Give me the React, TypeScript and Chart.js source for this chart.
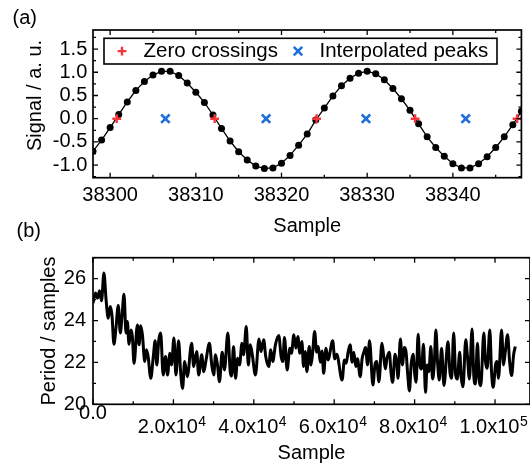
import React, { useEffect, useRef } from "react";
import { Chart, registerables } from "chart.js";

Chart.register(...registerables);

const FONT = '"Liberation Sans", Arial, Helvetica, sans-serif';

// ---------- Panel (a) data ----------
const signalX = [
  38298, 38299, 38300, 38301, 38302, 38303, 38304, 38305, 38306, 38307,
  38308, 38309, 38310, 38311, 38312, 38313, 38314, 38315, 38316, 38317,
  38318, 38319, 38320, 38321, 38322, 38323, 38324, 38325, 38326, 38327,
  38328, 38329, 38330, 38331, 38332, 38333, 38334, 38335, 38336, 38337,
  38338, 38339, 38340, 38341, 38342, 38343, 38344, 38345, 38346, 38347,
  38348,
];
const signalY = [
  -0.7, -0.46, -0.19, 0.09, 0.36, 0.61, 0.8, 0.94, 1.02, 1.02,
  0.93, 0.77, 0.57, 0.35, 0.08, -0.21, -0.48, -0.71, -0.89, -1.02,
  -1.07, -1.06, -0.96, -0.79, -0.57, -0.33, -0.03, 0.23, 0.49, 0.71,
  0.87, 0.98, 1.02, 0.97, 0.84, 0.65, 0.43, 0.18, -0.11, -0.39,
  -0.62, -0.81, -0.97, -1.06, -1.06, -0.97, -0.82, -0.62, -0.39, -0.13,
  0.16,
];
const zeroCrossX = [38300.77, 38312.2, 38324.1, 38335.6, 38347.5];
const zeroCrossY = [0, 0, 0, 0, 0];
const peakX = [38306.45, 38318.2, 38329.86, 38341.5];
const peakY = [0, 0, 0, 0];
const topXTicks = [38300, 38310, 38320, 38330, 38340];
const topYTicks = [-1.0, -0.5, 0.0, 0.5, 1.0, 1.5];

// ---------- Panel (b) data ----------
const periodX = [
  0, 625, 1125, 1625, 2125, 2708, 3290, 3790, 4290, 4710,
  5210, 5710, 6290, 6790, 7210, 7710, 8210, 8540, 8960, 9460,
  9790, 10210, 11040, 11460, 11870, 12290, 12880, 13290, 13710, 14375,
  14960, 15460, 15870, 16375, 16830, 17450, 18040, 18540, 19125, 19540,
  20125, 20625, 21290, 21790, 22290, 22790, 23460, 24540, 25040, 25790,
  26290, 27040, 27540, 28125, 28960, 29540, 30040, 30460, 30960, 31460,
  32125, 32710, 33540, 34125, 34450, 34960, 35460, 35960, 36460, 37040,
  37460, 38125, 38625, 39125, 39625, 40400, 41290, 41790, 42460, 42960,
  43710, 44210, 44710, 45375, 46210, 46790, 47210, 47625, 48290, 48960,
  49375, 49960, 50460, 50960, 51450, 51950, 52375, 52790, 53210, 53790,
  54210, 54625, 55125, 55625, 56040, 56540, 56960, 57375, 57960, 58460,
  59625, 60125, 60625, 61960, 62540, 62960, 63460, 63960, 64460, 64870,
  65375, 65790, 66460, 66960, 67375, 67790, 68290, 68790, 69625, 70125,
  70540, 71125, 71875, 72290, 72710, 73125, 73710, 74125, 74540, 75125,
  75540, 75875, 76460, 76960, 77460, 77875, 78290, 78710, 79125, 79625,
  80040, 80375, 80875, 81290, 81710, 82210, 82710, 83125, 83540, 84040,
  84460, 84875, 85290, 85710, 86125, 86710, 87300, 88290, 88790, 89210,
  89710, 90210, 90625, 91210, 91625, 92040, 92710, 93125, 93625, 94290,
  94710, 95125, 95625, 96040, 96460, 97210, 97625, 98040, 98710, 99125,
  99540, 100125, 100460, 100870, 101625, 102125, 102540, 103125, 103625, 104125,
  104625, 105040,
];
const periodY = [
  24.83, 25.31, 25.07, 25.42, 24.94, 26.27, 24.91, 24.11, 24.67, 24.27,
  22.87, 23.64, 24.72, 23.4, 24.19, 25.26, 23.4, 23.95, 22.87, 23.55,
  23.24, 21.96, 23.79, 22.84, 23.75, 23.32, 22.04, 22.6, 22.28, 21.24,
  22.2, 23.03, 21.88, 23.08, 23.4, 21.4, 22.28, 21.4, 22.44, 21.88,
  23.16, 21.4, 23.03, 21.56, 20.76, 22.04, 21.32, 22.92, 21.8, 22.52,
  21.4, 22.36, 21.56, 22.12, 22.92, 21.88, 21.4, 22.36, 21.88, 21.08,
  22.49, 21.64, 23.4, 21.56, 21.35, 22.76, 21.24, 22.2, 21.88, 22.92,
  22.36, 23.71, 21.88, 22.84, 22.36, 21.4, 23.12, 22.52, 23.08, 22.28,
  21.8, 22.6, 22.04, 22.84, 23.28, 22.28, 22.04, 23.19, 21.64, 22.68,
  22.44, 23.32, 22.68, 23.24, 22.44, 23.0, 21.8, 22.52, 21.56, 22.76,
  21.88, 22.44, 23.48, 22.49, 22.76, 22.01, 22.55, 21.48, 22.68, 22.12,
  23.03, 22.17, 22.39, 21.16, 22.12, 21.96, 22.49, 22.84, 22.01, 22.49,
  21.8, 22.17, 21.32, 22.2, 22.49, 22.71, 21.88, 23.03, 20.92, 21.88,
  22.04, 21.08, 22.92, 22.33, 21.69, 22.2, 22.49, 21.53, 21.05, 22.39,
  22.01, 21.24, 23.12, 21.88, 22.71, 22.49, 21.4, 20.64, 21.88, 22.39,
  21.4, 21.05, 23.35, 21.88, 21.69, 22.87, 20.57, 21.88, 21.56, 22.76,
  21.21, 21.88, 23.55, 22.01, 21.16, 22.68, 20.9, 22.99, 21.53, 21.24,
  23.4, 21.4, 21.21, 22.49, 21.24, 20.84, 23.08, 22.33, 21.21, 23.6,
  21.4, 20.97, 22.92, 21.24, 20.89, 23.4, 22.04, 21.72, 23.55, 21.56,
  20.81, 21.88, 22.04, 21.24, 23.55, 21.88, 22.49, 23.32, 22.04, 21.37,
  22.36, 22.76,
];
const bottomXTicks = [0, 20000, 40000, 60000, 80000, 100000];
const bottomYTicks = [20, 22, 24, 26];

function sciParts(v: number): { mant: string; exp: string } {
  if (v === 0) return { mant: "0.0", exp: "" };
  const e = Math.floor(Math.log10(Math.abs(v)) + 1e-9);
  const m = v / Math.pow(10, e);
  return { mant: m.toFixed(1) + "x10", exp: String(e) };
}

// Frame with inward major/minor ticks on all four sides
const frameTicks = {
  id: "frameTicks",
  afterDatasetsDraw(chart: any, _args: any, opts: any) {
    const { ctx, chartArea } = chart;
    const { left, right, top, bottom } = chartArea;
    const xs = chart.scales.x;
    const ys = chart.scales.y;
    ctx.save();
    ctx.strokeStyle = "#000";
    ctx.lineWidth = 1.3;
    const nX0 = Math.ceil(xs.min / opts.xMinor);
    const nX1 = Math.floor(xs.max / opts.xMinor);
    const ratioX = Math.round(opts.xMajor / opts.xMinor);
    for (let n = nX0; n <= nX1; n++) {
      const p = xs.getPixelForValue(n * opts.xMinor);
      const len = n % ratioX === 0 ? 5 : 3;
      ctx.beginPath();
      ctx.moveTo(p, bottom);
      ctx.lineTo(p, bottom - len);
      ctx.moveTo(p, top);
      ctx.lineTo(p, top + len);
      ctx.stroke();
    }
    const nY0 = Math.ceil(ys.min / opts.yMinor - 1e-9);
    const nY1 = Math.floor(ys.max / opts.yMinor + 1e-9);
    const ratioY = Math.round(opts.yMajor / opts.yMinor);
    for (let n = nY0; n <= nY1; n++) {
      const p = ys.getPixelForValue(n * opts.yMinor);
      const len = ((n % ratioY) + ratioY) % ratioY === 0 ? 5 : 3;
      ctx.beginPath();
      ctx.moveTo(left, p);
      ctx.lineTo(left + len, p);
      ctx.moveTo(right, p);
      ctx.lineTo(right - len, p);
      ctx.stroke();
    }
    ctx.lineWidth = 1.7;
    ctx.strokeRect(left, top, right - left, bottom - top);
    ctx.restore();
  },
};

// Superscript exponents for the "m.mx10^e" tick labels of the bottom x axis
const expLabels = {
  id: "expLabels",
  afterDraw(chart: any, _args: any, opts: any) {
    if (!opts || !opts.show) return;
    const { ctx, chartArea } = chart;
    const xs = chart.scales.x;
    const yMid = chartArea.bottom + opts.midOffset;
    ctx.save();
    ctx.fillStyle = "#000";
    ctx.textBaseline = "middle";
    ctx.textAlign = "left";
    xs.ticks.forEach((t: any) => {
      const parts = sciParts(t.value);
      if (!parts.exp) return;
      ctx.font = "20px " + FONT;
      const w = ctx.measureText(parts.mant).width;
      const sp = ctx.measureText("  ").width;
      const cx = xs.getPixelForValue(t.value) - sp / 2;
      ctx.font = "14px " + FONT;
      ctx.fillText(parts.exp, cx + w / 2 + 0.5, yMid - 5.8);
    });
    ctx.restore();
  },
};

// Boxed legend drawn inside the plot area
const insideLegend = {
  id: "insideLegend",
  afterDraw(chart: any, _args: any, opts: any) {
    if (!opts || !opts.show) return;
    const { ctx, chartArea } = chart;
    const bx = chartArea.left + 11;
    const by = chartArea.top + 8.3;
    const bw = 393;
    const bh = 25.7;
    const cy = by + bh / 2;
    ctx.save();
    ctx.fillStyle = "#fff";
    ctx.fillRect(bx, by, bw, bh);
    ctx.strokeStyle = "#000";
    ctx.lineWidth = 1.6;
    ctx.strokeRect(bx, by, bw, bh);
    const items = chart.data.datasets.filter((d: any) => d.legendX !== undefined);
    ctx.font = "20.5px " + FONT;
    ctx.textBaseline = "middle";
    ctx.textAlign = "left";
    items.forEach((d: any) => {
      const mx = bx + d.legendX;
      ctx.strokeStyle = d.borderColor;
      ctx.lineWidth = d.borderWidth;
      ctx.beginPath();
      if (d.pointStyle === "cross") {
        const r = d.pointRadius;
        ctx.moveTo(mx - r, cy);
        ctx.lineTo(mx + r, cy);
        ctx.moveTo(mx, cy - r);
        ctx.lineTo(mx, cy + r);
      } else {
        const r = d.pointRadius * Math.SQRT1_2;
        ctx.moveTo(mx - r, cy - r);
        ctx.lineTo(mx + r, cy + r);
        ctx.moveTo(mx - r, cy + r);
        ctx.lineTo(mx + r, cy - r);
      }
      ctx.stroke();
      ctx.fillStyle = "#000";
      ctx.fillText(d.label, mx + 21.5, cy);
    });
    ctx.restore();
  },
};

function zeroPads(s: any) {
  s.paddingTop = 0;
  s.paddingBottom = 0;
  s.paddingLeft = 0;
  s.paddingRight = 0;
}

function topConfig(): any {
  return {
    type: "scatter",
    data: {
      datasets: [
        {
          label: "Zero crossings",
          data: zeroCrossX.map((x, i) => ({ x, y: zeroCrossY[i] })),
          pointStyle: "cross",
          pointRadius: 4.4,
          borderColor: "#f4373d",
          borderWidth: 2.4,
          showLine: false,
          legendX: 18,
        },
        {
          label: "Interpolated peaks",
          data: peakX.map((x, i) => ({ x, y: peakY[i] })),
          pointStyle: "crossRot",
          pointRadius: 6,
          borderColor: "#1f6fdc",
          borderWidth: 2.6,
          showLine: false,
          legendX: 194,
        },
        {
          label: "Signal",
          data: signalX.map((x, i) => ({ x, y: signalY[i] })),
          showLine: true,
          borderColor: "#000",
          borderWidth: 1.3,
          pointRadius: 3.5,
          pointBackgroundColor: "#000",
          pointBorderWidth: 0,
          tension: 0,
        },
      ],
    },
    options: {
      responsive: false,
      animation: false,
      events: [],
      layout: { padding: { top: 30, right: 0, left: 0, bottom: 0 } },
      plugins: {
        legend: { display: false },
        tooltip: { enabled: false },
        frameTicks: { xMajor: 10, xMinor: 5, yMajor: 0.5, yMinor: 0.25 },
        insideLegend: { show: true },
      },
      scales: {
        x: {
          type: "linear",
          min: 38298,
          max: 38348,
          afterBuildTicks: (s: any) => {
            s.ticks = topXTicks.map((v) => ({ value: v }));
          },
          afterFit: (s: any) => {
            s.height = 62.3;
            zeroPads(s);
          },
          grid: { display: false, drawTicks: false },
          border: { display: false },
          ticks: {
            padding: 6,
            maxRotation: 0,
            minRotation: 0,
            autoSkip: false,
            color: "#000",
            font: { size: 20, family: FONT },
            callback: (v: any) => String(v),
          },
          title: {
            display: true,
            text: "Sample",
            color: "#000",
            font: { size: 20, family: FONT },
            padding: { top: 0, bottom: 2 },
          },
        },
        y: {
          type: "linear",
          min: -1.27,
          max: 1.91,
          afterBuildTicks: (s: any) => {
            s.ticks = topYTicks.map((v) => ({ value: v }));
          },
          afterFit: (s: any) => {
            s.width = 93;
            zeroPads(s);
          },
          grid: { display: false, drawTicks: false },
          border: { display: false },
          ticks: {
            padding: 5.7,
            color: "#000",
            font: { size: 20, family: FONT },
            callback: (v: any) => Number(v).toFixed(1),
          },
          title: {
            display: true,
            text: "   Signal / a. u.",
            color: "#000",
            font: { size: 20, family: FONT },
            padding: { top: 23, bottom: 0 },
          },
        },
      },
    },
    plugins: [frameTicks, insideLegend],
  };
}

function bottomConfig(): any {
  return {
    type: "scatter",
    data: {
      datasets: [
        {
          label: "Period",
          data: periodX.map((x, i) => ({ x, y: periodY[i] })),
          showLine: true,
          borderColor: "#000",
          borderWidth: 3,
          pointRadius: 0,
          cubicInterpolationMode: "monotone",
        },
      ],
    },
    options: {
      responsive: false,
      animation: false,
      events: [],
      layout: { padding: { top: 17.7, right: 0, left: 0, bottom: 0 } },
      plugins: {
        legend: { display: false },
        tooltip: { enabled: false },
        frameTicks: { xMajor: 20000, xMinor: 10000, yMajor: 2, yMinor: 1 },
        expLabels: { show: true, midOffset: 8.7 + 14.5 },
      },
      scales: {
        x: {
          type: "linear",
          min: 0,
          max: 108700,
          afterBuildTicks: (s: any) => {
            s.ticks = bottomXTicks.map((v) => ({ value: v }));
          },
          afterFit: (s: any) => {
            s.height = 63.7;
            zeroPads(s);
          },
          grid: { display: false, drawTicks: false },
          border: { display: false },
          ticks: {
            padding: 8.7,
            crossAlign: "far",
            maxRotation: 0,
            minRotation: 0,
            autoSkip: false,
            color: "#000",
            font: (c: any) => ({
              size: 20,
              family: FONT,
              lineHeight: c.index === 0 ? 1.925 : 1.2,
            }),
            callback: (v: any) => {
              const p = sciParts(Number(v));
              return p.exp ? p.mant + "  " : p.mant;
            },
          },
          title: {
            display: true,
            text: "Sample",
            color: "#000",
            font: { size: 20, family: FONT },
            padding: { top: 0, bottom: 3 },
          },
        },
        y: {
          type: "linear",
          min: 20,
          max: 27,
          afterBuildTicks: (s: any) => {
            s.ticks = bottomYTicks.map((v) => ({ value: v }));
          },
          afterFit: (s: any) => {
            s.width = 93;
            zeroPads(s);
          },
          grid: { display: false, drawTicks: false },
          border: { display: false },
          ticks: {
            padding: 7,
            color: "#000",
            font: { size: 20, family: FONT },
            callback: (v: any) => String(v),
          },
          title: {
            display: true,
            text: "Period / samples",
            color: "#000",
            font: { size: 20, family: FONT },
            padding: { top: 37, bottom: 0 },
          },
        },
      },
    },
    plugins: [frameTicks, expLabels],
  };
}

export default function App() {
  const topRef = useRef<HTMLCanvasElement>(null);
  const botRef = useRef<HTMLCanvasElement>(null);

  useEffect(() => {
    const c1 = new Chart(topRef.current as HTMLCanvasElement, topConfig());
    const c2 = new Chart(botRef.current as HTMLCanvasElement, bottomConfig());
    return () => {
      c1.destroy();
      c2.destroy();
    };
  }, []);

  const panelLabel: React.CSSProperties = {
    position: "absolute",
    fontFamily: FONT,
    fontSize: 20,
    lineHeight: "20px",
    color: "#000",
    whiteSpace: "nowrap",
  };

  return (
    <div
      style={{
        position: "absolute",
        left: 0,
        top: 0,
        width: 530,
        height: 468,
        background: "#fff",
        overflow: "hidden",
      }}
    >
      <canvas
        ref={topRef}
        width={530}
        height={240}
        style={{ position: "absolute", left: 0, top: 0, width: 530, height: 240 }}
      />
      <canvas
        ref={botRef}
        width={530}
        height={228}
        style={{ position: "absolute", left: 0, top: 240, width: 530, height: 228 }}
      />
      <div style={{ ...panelLabel, left: 12.5, top: 7 }}>(a)</div>
      <div style={{ ...panelLabel, left: 16.5, top: 220 }}>(b)</div>
    </div>
  );
}
